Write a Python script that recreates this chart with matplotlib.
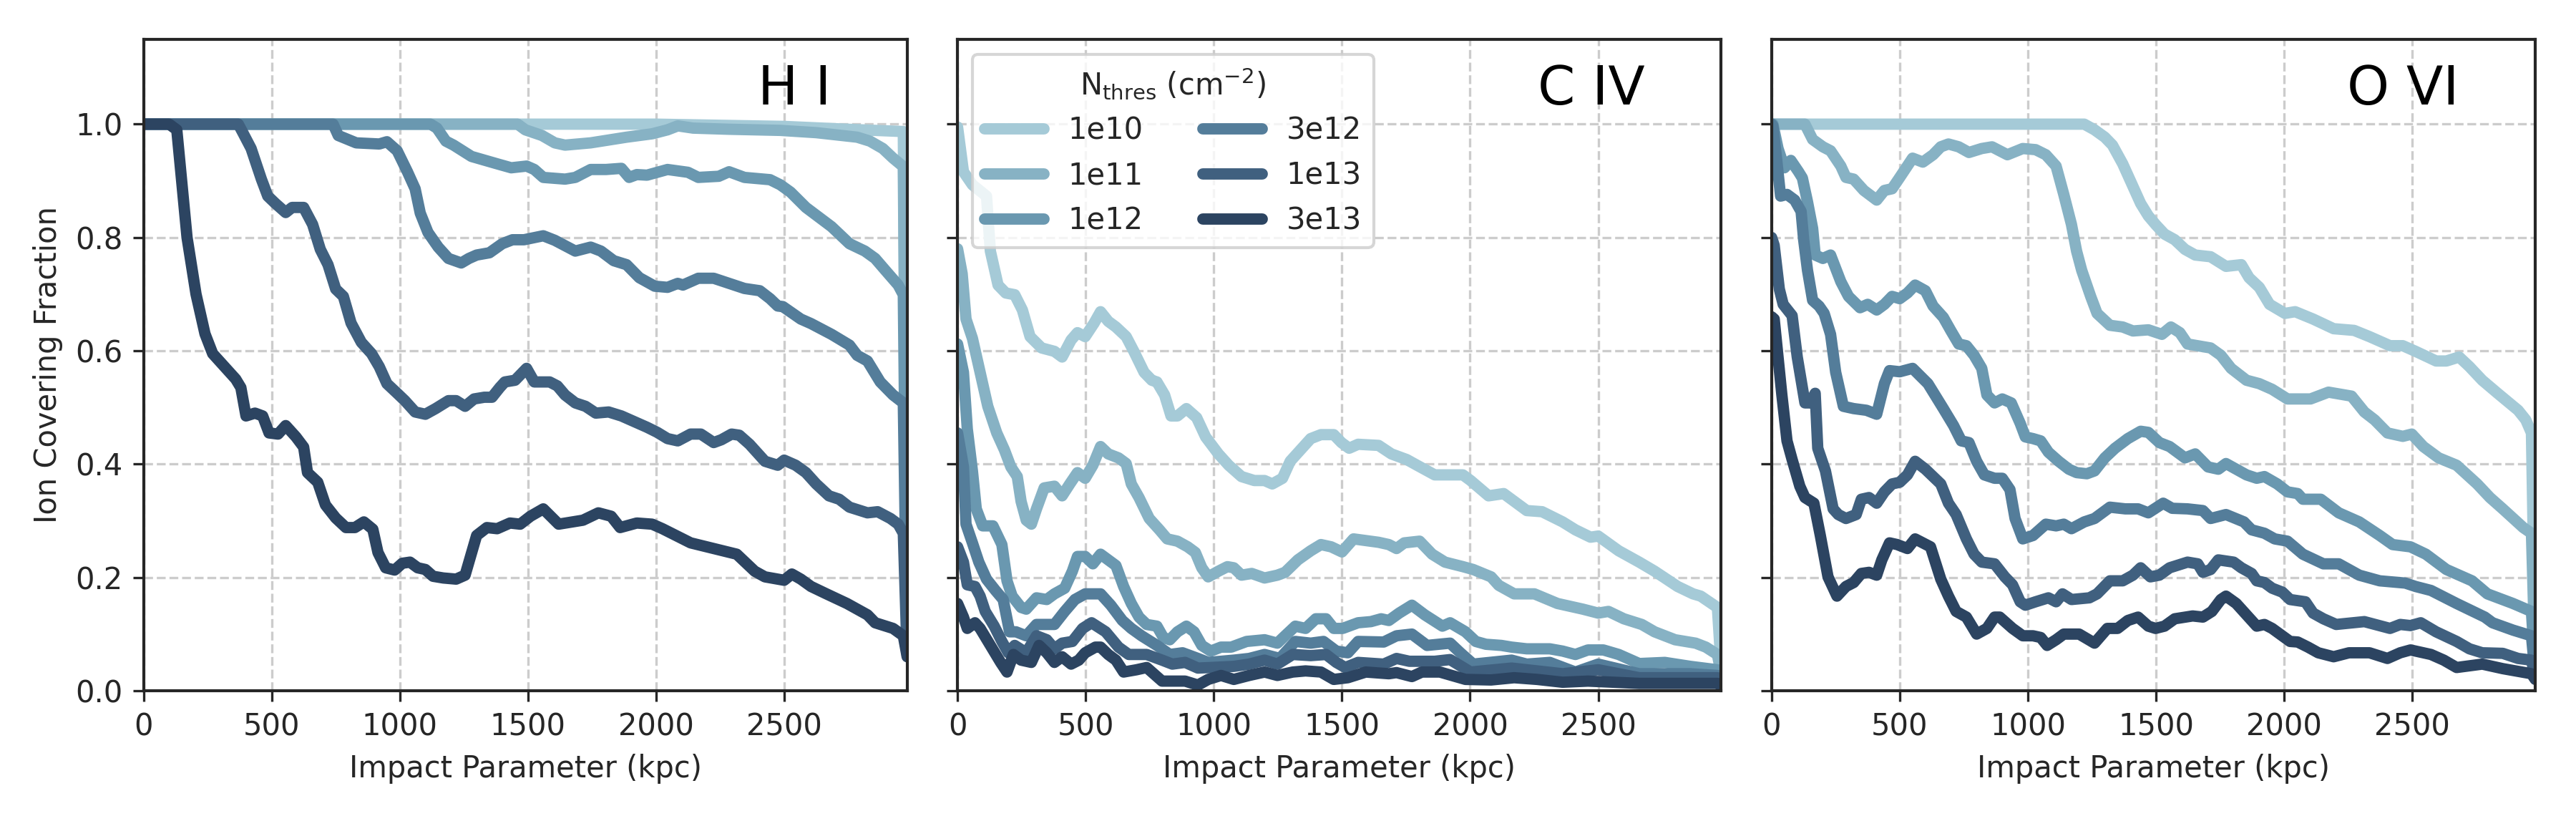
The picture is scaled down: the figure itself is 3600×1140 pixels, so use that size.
import numpy as np
import matplotlib
matplotlib.use('Agg')
import matplotlib.pyplot as plt

# covering fraction vs impact parameter as (kpc, fraction)
thresholds = ['1e10', '1e11', '1e12', '3e12', '1e13', '3e13']
colors = ['#a5cad7', '#87b2c4', '#6a98b0', '#547d9a', '#40607f', '#2c4461']
ion_labels = ['H I', 'C IV', 'O VI']

HI_1e10 = [(0, 1.0), (2000, 1.0), (2500, 0.996), (2800, 0.99), (2965, 0.987), (2980, 0.08)]
HI_1e11 = [(0, 1.0), (1460, 1.0), (1490, 0.99), (1555, 0.98), (1605, 0.967), (1645, 0.963), (1745, 0.967),
           (1885, 0.977), (1985, 0.983), (2045, 0.99), (2085, 0.997), (2145, 0.993), (2285, 0.991),
           (2485, 0.989), (2625, 0.985), (2785, 0.977), (2835, 0.97), (2885, 0.957), (2925, 0.94),
           (2965, 0.925), (2980, 0.075)]
HI_1e12 = [(0, 1.0), (1120, 1.0), (1145, 0.993), (1180, 0.97), (1210, 0.963), (1280, 0.943), (1380, 0.93),
           (1435, 0.923), (1495, 0.926), (1525, 0.92), (1560, 0.906), (1645, 0.903), (1685, 0.906),
           (1745, 0.92), (1805, 0.92), (1865, 0.922), (1895, 0.906), (1925, 0.911), (1965, 0.91),
           (2045, 0.92), (2125, 0.915), (2165, 0.906), (2245, 0.908), (2285, 0.916), (2345, 0.906),
           (2445, 0.902), (2485, 0.893), (2525, 0.88), (2585, 0.853), (2685, 0.819), (2755, 0.789),
           (2815, 0.776), (2855, 0.763), (2895, 0.742), (2945, 0.716), (2965, 0.699), (2980, 0.07)]
HI_3e12 = [(0, 1.0), (740, 1.0), (760, 0.98), (830, 0.967), (920, 0.965), (950, 0.969), (990, 0.953),
           (1030, 0.916), (1060, 0.886), (1080, 0.843), (1110, 0.809), (1150, 0.783), (1190, 0.763),
           (1240, 0.755), (1270, 0.763), (1300, 0.769), (1350, 0.773), (1400, 0.789), (1440, 0.796),
           (1485, 0.796), (1560, 0.803), (1605, 0.795), (1685, 0.776), (1745, 0.783), (1785, 0.776),
           (1835, 0.759), (1885, 0.752), (1935, 0.729), (1995, 0.714), (2045, 0.712), (2085, 0.719),
           (2105, 0.716), (2165, 0.728), (2225, 0.728), (2285, 0.719), (2345, 0.71), (2405, 0.706),
           (2445, 0.692), (2475, 0.679), (2495, 0.678), (2565, 0.656), (2605, 0.648), (2685, 0.629),
           (2755, 0.61), (2785, 0.592), (2825, 0.582), (2875, 0.545), (2925, 0.522), (2965, 0.508),
           (2980, 0.065)]
HI_1e13 = [(0, 1.0), (370, 1.0), (390, 0.983), (420, 0.957), (460, 0.903), (485, 0.873), (515, 0.86),
           (555, 0.844), (580, 0.853), (625, 0.853), (660, 0.823), (690, 0.779), (720, 0.752), (750, 0.709),
           (780, 0.696), (810, 0.649), (850, 0.615), (890, 0.595), (920, 0.572), (950, 0.542), (990, 0.525),
           (1020, 0.512), (1060, 0.492), (1100, 0.488), (1140, 0.498), (1190, 0.512), (1220, 0.512),
           (1255, 0.502), (1290, 0.515), (1330, 0.518), (1360, 0.518), (1390, 0.535), (1410, 0.545),
           (1450, 0.548), (1495, 0.569), (1525, 0.545), (1585, 0.545), (1615, 0.538), (1645, 0.522),
           (1685, 0.508), (1725, 0.502), (1765, 0.49), (1815, 0.492), (1865, 0.485), (1915, 0.475),
           (1965, 0.465), (2005, 0.456), (2045, 0.445), (2085, 0.441), (2135, 0.453), (2175, 0.453),
           (2225, 0.438), (2255, 0.443), (2295, 0.453), (2325, 0.451), (2365, 0.435), (2425, 0.405),
           (2475, 0.398), (2500, 0.407), (2545, 0.398), (2585, 0.385), (2625, 0.365), (2675, 0.344),
           (2715, 0.338), (2755, 0.324), (2825, 0.314), (2865, 0.316), (2915, 0.304), (2945, 0.294),
           (2965, 0.278), (2980, 0.062)]
HI_3e13 = [(0, 1.0), (100, 1.0), (130, 0.99), (170, 0.80), (205, 0.70), (240, 0.63), (270, 0.595),
           (320, 0.57), (360, 0.55), (380, 0.535), (400, 0.485), (435, 0.49), (465, 0.485), (490, 0.455),
           (525, 0.453), (555, 0.468), (595, 0.448), (625, 0.43), (640, 0.385), (680, 0.368), (710, 0.328),
           (750, 0.305), (790, 0.288), (825, 0.288), (860, 0.298), (895, 0.285), (915, 0.244), (945, 0.217),
           (980, 0.213), (1010, 0.225), (1040, 0.227), (1070, 0.217), (1100, 0.214), (1130, 0.202),
           (1170, 0.199), (1220, 0.197), (1255, 0.204), (1300, 0.274), (1340, 0.288), (1380, 0.286),
           (1430, 0.296), (1470, 0.294), (1510, 0.308), (1560, 0.321), (1620, 0.294), (1715, 0.301),
           (1775, 0.314), (1825, 0.308), (1860, 0.288), (1925, 0.296), (1985, 0.294), (2025, 0.286),
           (2135, 0.261), (2225, 0.251), (2315, 0.241), (2385, 0.211), (2425, 0.201), (2500, 0.195),
           (2530, 0.206), (2565, 0.197), (2605, 0.184), (2665, 0.171), (2745, 0.154), (2825, 0.134),
           (2855, 0.12), (2925, 0.11), (2965, 0.097), (2980, 0.06)]

CIV_1e10 = [(0, 0.995), (23, 0.916), (58, 0.893), (113, 0.873), (128, 0.776), (158, 0.716), (188, 0.702),
            (223, 0.699), (253, 0.672), (283, 0.625), (328, 0.605), (378, 0.599), (408, 0.589), (443, 0.619),
            (468, 0.632), (498, 0.625), (533, 0.649), (558, 0.669), (588, 0.652), (618, 0.642), (658, 0.625),
            (688, 0.599), (728, 0.562), (758, 0.548), (778, 0.545), (808, 0.522), (833, 0.485), (858, 0.485),
            (893, 0.498), (933, 0.482), (968, 0.448), (1018, 0.418), (1058, 0.398), (1108, 0.378),
            (1158, 0.371), (1198, 0.371), (1228, 0.365), (1268, 0.375), (1298, 0.405), (1338, 0.425),
            (1378, 0.445), (1418, 0.452), (1468, 0.452), (1498, 0.438), (1528, 0.428), (1563, 0.435),
            (1643, 0.433), (1693, 0.418), (1753, 0.408), (1793, 0.398), (1862, 0.381), (1972, 0.381),
            (2002, 0.371), (2072, 0.344), (2131, 0.348), (2221, 0.318), (2281, 0.316), (2361, 0.298),
            (2411, 0.284), (2470, 0.271), (2500, 0.273), (2580, 0.247), (2660, 0.227), (2720, 0.211),
            (2810, 0.184), (2870, 0.171), (2900, 0.167), (2965, 0.147), (2980, 0.04)]
CIV_1e11 = [(0, 0.78), (18, 0.736), (33, 0.656), (58, 0.622), (88, 0.562), (118, 0.502), (153, 0.455),
            (183, 0.425), (208, 0.395), (233, 0.378), (248, 0.334), (268, 0.301), (288, 0.294), (308, 0.321),
            (338, 0.358), (378, 0.361), (408, 0.344), (438, 0.365), (468, 0.385), (498, 0.375), (528, 0.398),
            (558, 0.431), (588, 0.418), (628, 0.411), (658, 0.401), (678, 0.365), (708, 0.341), (748, 0.304),
            (788, 0.284), (818, 0.268), (858, 0.264), (898, 0.254), (928, 0.244), (953, 0.217), (978, 0.201),
            (1018, 0.211), (1053, 0.219), (1078, 0.217), (1108, 0.204), (1148, 0.207), (1198, 0.199),
            (1248, 0.204), (1278, 0.209), (1328, 0.231), (1378, 0.247), (1418, 0.258), (1458, 0.254),
            (1500, 0.245), (1545, 0.268), (1643, 0.262), (1683, 0.258), (1713, 0.251), (1743, 0.261),
            (1803, 0.264), (1852, 0.241), (1902, 0.227), (1972, 0.219), (2012, 0.214), (2082, 0.201),
            (2112, 0.186), (2172, 0.171), (2251, 0.171), (2341, 0.154), (2440, 0.144), (2500, 0.137),
            (2540, 0.14), (2600, 0.127), (2670, 0.117), (2720, 0.104), (2800, 0.09), (2880, 0.084),
            (2920, 0.077), (2965, 0.064), (2980, 0.03)]
CIV_1e12 = [(0, 0.612), (23, 0.562), (38, 0.462), (58, 0.388), (73, 0.321), (98, 0.291), (138, 0.291),
            (173, 0.258), (193, 0.194), (213, 0.167), (248, 0.147), (268, 0.144), (308, 0.164), (348, 0.161),
            (378, 0.171), (418, 0.181), (448, 0.211), (468, 0.237), (498, 0.237), (528, 0.224), (558, 0.241),
            (588, 0.231), (618, 0.221), (648, 0.184), (678, 0.154), (708, 0.13), (738, 0.117), (778, 0.114),
            (803, 0.094), (828, 0.09), (858, 0.104), (893, 0.114), (923, 0.104), (953, 0.08), (988, 0.07),
            (1028, 0.077), (1068, 0.077), (1128, 0.087), (1198, 0.09), (1248, 0.084), (1278, 0.097),
            (1318, 0.114), (1358, 0.11), (1398, 0.127), (1438, 0.127), (1468, 0.11), (1503, 0.11),
            (1563, 0.12), (1613, 0.122), (1653, 0.127), (1683, 0.124), (1723, 0.137), (1773, 0.151),
            (1823, 0.134), (1892, 0.114), (1922, 0.12), (1982, 0.104), (2022, 0.087), (2062, 0.082),
            (2122, 0.08), (2162, 0.077), (2221, 0.074), (2311, 0.074), (2361, 0.07), (2411, 0.064),
            (2460, 0.072), (2520, 0.072), (2580, 0.064), (2660, 0.048), (2760, 0.05), (2860, 0.043),
            (2965, 0.037), (2980, 0.02)]
CIV_3e12 = [(0, 0.455), (23, 0.395), (33, 0.294), (58, 0.261), (83, 0.227), (113, 0.197), (148, 0.177),
            (178, 0.161), (203, 0.104), (228, 0.104), (268, 0.097), (308, 0.117), (378, 0.117), (418, 0.14),
            (458, 0.161), (498, 0.171), (558, 0.171), (598, 0.151), (643, 0.124), (678, 0.11), (718, 0.097),
            (778, 0.08), (828, 0.064), (878, 0.067), (938, 0.057), (978, 0.05), (1028, 0.052), (1078, 0.054),
            (1138, 0.057), (1198, 0.064), (1258, 0.057), (1318, 0.087), (1378, 0.084), (1428, 0.087),
            (1478, 0.07), (1523, 0.067), (1563, 0.087), (1663, 0.086), (1713, 0.097), (1773, 0.1),
            (1832, 0.08), (1922, 0.084), (1962, 0.067), (2012, 0.047), (2162, 0.054), (2221, 0.047),
            (2311, 0.05), (2411, 0.033), (2500, 0.047), (2660, 0.03), (2860, 0.03), (2965, 0.027),
            (2980, 0.015)]
CIV_1e13 = [(0, 0.254), (23, 0.227), (38, 0.187), (68, 0.184), (88, 0.167), (108, 0.14), (143, 0.114),
            (173, 0.087), (198, 0.067), (223, 0.08), (268, 0.067), (308, 0.097), (348, 0.09), (378, 0.074),
            (408, 0.084), (448, 0.087), (488, 0.11), (523, 0.12), (578, 0.104), (628, 0.077), (668, 0.064),
            (738, 0.064), (798, 0.054), (838, 0.047), (888, 0.05), (938, 0.04), (988, 0.041), (1078, 0.043),
            (1138, 0.047), (1198, 0.054), (1248, 0.047), (1308, 0.064), (1378, 0.062), (1438, 0.064),
            (1478, 0.05), (1513, 0.041), (1563, 0.05), (1663, 0.047), (1713, 0.057), (1763, 0.052),
            (1862, 0.052), (1922, 0.055), (2002, 0.033), (2162, 0.04), (2361, 0.03), (2500, 0.037),
            (2660, 0.023), (2965, 0.023), (2980, 0.012)]
CIV_3e13 = [(0, 0.154), (23, 0.13), (38, 0.11), (68, 0.12), (88, 0.11), (128, 0.08), (168, 0.05),
            (193, 0.033), (218, 0.064), (248, 0.054), (288, 0.05), (318, 0.08), (348, 0.067), (378, 0.05),
            (408, 0.06), (443, 0.047), (473, 0.054), (498, 0.067), (538, 0.077), (558, 0.077), (588, 0.064),
            (618, 0.054), (648, 0.033), (698, 0.037), (738, 0.041), (798, 0.017), (848, 0.017), (888, 0.017),
            (938, 0.01), (978, 0.02), (1028, 0.027), (1078, 0.02), (1138, 0.027), (1198, 0.033),
            (1248, 0.027), (1308, 0.033), (1358, 0.035), (1418, 0.033), (1468, 0.02), (1523, 0.023),
            (1593, 0.033), (1683, 0.03), (1713, 0.032), (1773, 0.025), (1812, 0.033), (1882, 0.033),
            (1982, 0.02), (2082, 0.019), (2172, 0.023), (2261, 0.02), (2361, 0.015), (2460, 0.017),
            (2660, 0.013), (2965, 0.013), (2980, 0.01)]

OVI_1e10 = [(0, 1.0), (1220, 1.0), (1260, 0.99), (1300, 0.977), (1330, 0.963), (1370, 0.93), (1410, 0.89),
            (1440, 0.86), (1470, 0.838), (1500, 0.822), (1533, 0.806), (1573, 0.796), (1613, 0.779),
            (1653, 0.769), (1713, 0.766), (1773, 0.749), (1833, 0.752), (1863, 0.729), (1903, 0.712),
            (1943, 0.682), (2003, 0.666), (2043, 0.669), (2113, 0.656), (2193, 0.639), (2273, 0.636),
            (2333, 0.625), (2413, 0.609), (2463, 0.609), (2513, 0.599), (2593, 0.582), (2633, 0.582),
            (2683, 0.589), (2723, 0.572), (2773, 0.548), (2833, 0.525), (2913, 0.495), (2943, 0.478),
            (2965, 0.455), (2980, 0.05)]
OVI_1e11 = [(0, 1.0), (130, 1.0), (160, 0.973), (200, 0.96), (230, 0.953), (270, 0.926), (290, 0.906),
            (320, 0.903), (360, 0.883), (410, 0.866), (440, 0.883), (470, 0.886), (500, 0.906), (550, 0.94),
            (590, 0.933), (630, 0.946), (660, 0.96), (690, 0.965), (730, 0.96), (770, 0.95), (820, 0.957),
            (860, 0.96), (920, 0.946), (980, 0.957), (1030, 0.955), (1070, 0.946), (1110, 0.926),
            (1140, 0.876), (1170, 0.823), (1190, 0.776), (1210, 0.742), (1245, 0.696), (1270, 0.666),
            (1320, 0.645), (1370, 0.642), (1410, 0.635), (1470, 0.637), (1523, 0.629), (1558, 0.642),
            (1593, 0.632), (1623, 0.612), (1713, 0.605), (1753, 0.592), (1793, 0.569), (1853, 0.548),
            (1903, 0.542), (1953, 0.532), (2013, 0.515), (2103, 0.515), (2173, 0.527), (2263, 0.52),
            (2313, 0.492), (2353, 0.478), (2403, 0.455), (2463, 0.449), (2498, 0.453), (2543, 0.431),
            (2603, 0.411), (2673, 0.398), (2753, 0.365), (2803, 0.341), (2853, 0.321), (2933, 0.288),
            (2965, 0.278), (2980, 0.04)]
OVI_1e12 = [(0, 1.0), (5, 1.0), (25, 0.957), (50, 0.923), (75, 0.936), (105, 0.916), (120, 0.905),
            (140, 0.863), (160, 0.816), (170, 0.769), (200, 0.763), (230, 0.769), (270, 0.722), (300, 0.696),
            (345, 0.676), (375, 0.682), (410, 0.672), (440, 0.682), (470, 0.696), (500, 0.692), (530, 0.702),
            (560, 0.716), (600, 0.706), (630, 0.679), (670, 0.659), (700, 0.635), (730, 0.612), (760, 0.609),
            (790, 0.592), (820, 0.569), (840, 0.522), (870, 0.508), (900, 0.515), (935, 0.508), (970, 0.472),
            (990, 0.448), (1020, 0.445), (1050, 0.441), (1080, 0.421), (1120, 0.405), (1160, 0.391),
            (1190, 0.385), (1230, 0.383), (1260, 0.388), (1300, 0.411), (1340, 0.428), (1390, 0.445),
            (1440, 0.458), (1470, 0.456), (1513, 0.438), (1553, 0.431), (1613, 0.411), (1653, 0.418),
            (1703, 0.395), (1743, 0.391), (1773, 0.401), (1853, 0.381), (1893, 0.375), (1923, 0.378),
            (1973, 0.365), (2013, 0.351), (2053, 0.348), (2073, 0.338), (2143, 0.338), (2213, 0.314),
            (2293, 0.298), (2373, 0.274), (2423, 0.258), (2493, 0.254), (2553, 0.241), (2633, 0.214),
            (2733, 0.194), (2793, 0.171), (2893, 0.154), (2965, 0.14), (2980, 0.03)]
OVI_3e12 = [(0, 1.0), (5, 0.997), (20, 0.936), (35, 0.873), (60, 0.876), (90, 0.866), (115, 0.846),
            (125, 0.796), (140, 0.742), (160, 0.689), (185, 0.679), (205, 0.666), (230, 0.629), (250, 0.562),
            (280, 0.502), (320, 0.498), (370, 0.495), (410, 0.488), (440, 0.542), (460, 0.565), (500, 0.563),
            (550, 0.569), (610, 0.542), (670, 0.498), (710, 0.468), (740, 0.441), (770, 0.438), (800, 0.405),
            (830, 0.381), (870, 0.375), (900, 0.375), (930, 0.355), (950, 0.304), (980, 0.268),
            (1020, 0.274), (1070, 0.294), (1110, 0.291), (1140, 0.294), (1170, 0.286), (1220, 0.298),
            (1260, 0.304), (1320, 0.324), (1380, 0.321), (1430, 0.321), (1470, 0.314), (1528, 0.331),
            (1563, 0.322), (1623, 0.321), (1683, 0.318), (1713, 0.304), (1773, 0.311), (1843, 0.298),
            (1873, 0.284), (1923, 0.278), (1963, 0.268), (2013, 0.264), (2073, 0.241), (2153, 0.224),
            (2213, 0.224), (2293, 0.204), (2373, 0.194), (2473, 0.19), (2513, 0.184), (2573, 0.177),
            (2673, 0.154), (2783, 0.13), (2813, 0.12), (2893, 0.107), (2965, 0.097), (2980, 0.025)]
OVI_1e13 = [(0, 0.80), (10, 0.786), (30, 0.709), (45, 0.682), (80, 0.662), (100, 0.589), (130, 0.508),
            (150, 0.508), (170, 0.525), (180, 0.428), (210, 0.388), (240, 0.321), (260, 0.311), (290, 0.304),
            (330, 0.311), (350, 0.338), (380, 0.341), (410, 0.331), (440, 0.351), (470, 0.365), (500, 0.368),
            (530, 0.381), (560, 0.405), (600, 0.391), (660, 0.365), (690, 0.331), (720, 0.311), (760, 0.268),
            (790, 0.241), (820, 0.227), (870, 0.224), (910, 0.201), (940, 0.187), (970, 0.157), (990, 0.151),
            (1030, 0.157), (1080, 0.164), (1110, 0.157), (1135, 0.171), (1170, 0.161), (1240, 0.164),
            (1270, 0.171), (1320, 0.194), (1370, 0.194), (1410, 0.204), (1440, 0.217), (1478, 0.201),
            (1513, 0.204), (1553, 0.217), (1623, 0.227), (1663, 0.224), (1683, 0.209), (1713, 0.214),
            (1743, 0.231), (1803, 0.227), (1833, 0.217), (1873, 0.207), (1893, 0.194), (1923, 0.191),
            (1953, 0.181), (1993, 0.174), (2023, 0.161), (2083, 0.157), (2113, 0.137), (2153, 0.127),
            (2203, 0.117), (2313, 0.122), (2413, 0.11), (2453, 0.117), (2493, 0.115), (2533, 0.12),
            (2593, 0.104), (2673, 0.087), (2723, 0.074), (2773, 0.067), (2853, 0.066), (2913, 0.057),
            (2965, 0.054), (2980, 0.022)]
OVI_3e13 = [(0, 0.66), (10, 0.656), (25, 0.589), (40, 0.522), (60, 0.441), (80, 0.408), (110, 0.361),
            (130, 0.341), (165, 0.331), (190, 0.274), (220, 0.201), (255, 0.167), (290, 0.184), (320, 0.191),
            (350, 0.207), (380, 0.209), (410, 0.204), (430, 0.231), (460, 0.261), (490, 0.258), (530, 0.251),
            (560, 0.268), (620, 0.254), (660, 0.197), (690, 0.167), (720, 0.14), (760, 0.13), (800, 0.1),
            (840, 0.11), (870, 0.13), (890, 0.13), (940, 0.11), (980, 0.097), (1020, 0.097), (1050, 0.094),
            (1075, 0.08), (1110, 0.09), (1140, 0.1), (1200, 0.1), (1260, 0.084), (1310, 0.11), (1350, 0.11),
            (1390, 0.124), (1430, 0.13), (1470, 0.114), (1498, 0.11), (1533, 0.114), (1573, 0.127),
            (1643, 0.132), (1683, 0.13), (1718, 0.14), (1753, 0.161), (1773, 0.167), (1813, 0.154),
            (1853, 0.134), (1893, 0.114), (1923, 0.117), (1953, 0.11), (2023, 0.087), (2053, 0.086),
            (2093, 0.077), (2133, 0.067), (2193, 0.06), (2253, 0.067), (2333, 0.067), (2403, 0.057),
            (2453, 0.067), (2493, 0.072), (2573, 0.064), (2623, 0.054), (2673, 0.041), (2773, 0.047),
            (2853, 0.039), (2965, 0.03), (2980, 0.02)]

panels = [
    [HI_1e10, HI_1e11, HI_1e12, HI_3e12, HI_1e13, HI_3e13],
    [CIV_1e10, CIV_1e11, CIV_1e12, CIV_3e12, CIV_1e13, CIV_3e13],
    [OVI_1e10, OVI_1e11, OVI_1e12, OVI_3e12, OVI_1e13, OVI_3e13],
]

dark = '#262626'
plt.rcParams.update({
    'font.family': 'DejaVu Sans',
    'font.size': 10,
    'text.color': dark,
    'axes.labelcolor': dark,
    'axes.edgecolor': dark,
    'axes.linewidth': 1.0,
    'xtick.color': dark,
    'ytick.color': dark,
    'xtick.direction': 'out',
    'ytick.direction': 'out',
    'xtick.labelsize': 10,
    'ytick.labelsize': 10,
    'legend.fontsize': 10,
    'legend.title_fontsize': 10,
    'mathtext.default': 'regular',
})

fig, axes = plt.subplots(1, 3, figsize=(12, 3.8), sharey=True)
fig.subplots_adjust(left=0.0557, right=0.9842, bottom=0.1535, top=0.952, wspace=0.066)

for ax, ion, series in zip(axes, ion_labels, panels):
    for pts, name, c in zip(series, thresholds, colors):
        x, y = zip(*pts)
        ax.plot(x, y, color=c, lw=3.8, label=name,
                solid_capstyle='round', solid_joinstyle='round')
    ax.set_xlim(0, 2980)
    ax.set_ylim(0, 1.15)
    ax.set_xticks([0, 500, 1000, 1500, 2000, 2500])
    ax.set_yticks([0.0, 0.2, 0.4, 0.6, 0.8, 1.0])
    ax.grid(True, ls='--', lw=0.8, color='#cccccc')
    ax.set_axisbelow(True)
    ax.set_xlabel('Impact Parameter (kpc)')
    ax.text(0.9, 0.9, ion, transform=ax.transAxes, ha='right', va='baseline',
            fontsize=18, color='black')

axes[0].set_ylabel('Ion Covering Fraction')
axes[1].legend(loc='upper left', ncol=2, title=r'N$_{\rm thres}$ (cm$^{-2}$)')

fig.savefig('out.png', dpi=300)
